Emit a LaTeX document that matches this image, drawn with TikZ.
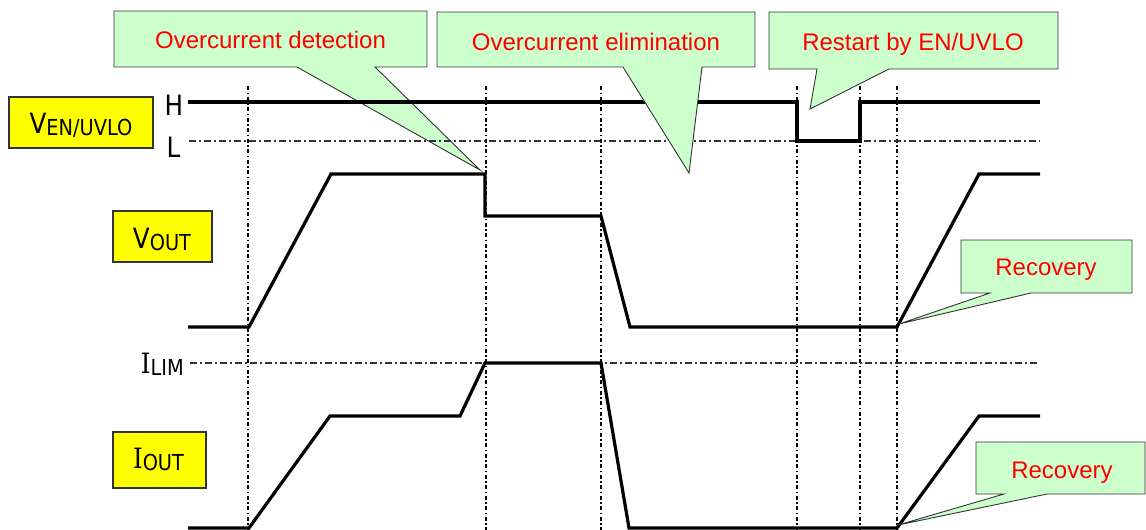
\documentclass[tikz,border=0pt]{standalone}
\usepackage{fontspec}
\setmainfont{Liberation Sans}
\newfontfamily\tfont[FakeStretch=0.88]{DejaVu Sans}
\newfontfamily\ifont[FakeStretch=0.88]{DejaVu Serif}
\definecolor{cgreen}{HTML}{CCFFCC}
\definecolor{cyellow}{HTML}{FFFF00}
\definecolor{cred}{HTML}{FF0000}
\definecolor{cedge}{HTML}{333333}
\newcommand\bigtxt[1]{{\tfont\fontsize{28}{30}\selectfont #1}}
\newcommand\subtxt[1]{\raisebox{-2.5pt}{\tfont\fontsize{22}{24}\selectfont #1}}
\newcommand\seri{{\ifont\fontsize{28}{30}\selectfont I}}
\tikzset{
  wave/.style={line width=3.2pt, line join=miter, black},
  vguide/.style={line width=1.4pt, black, dash pattern=on 4pt off 2.5pt on 1.5pt off 2.5pt},
  hguide/.style={line width=1.2pt, cedge, dash pattern=on 7pt off 3pt on 2pt off 3pt},
  callout/.style={fill=cgreen, draw=cedge, line width=0.9pt, line join=miter},
  calltext/.style={anchor=base, inner sep=0pt, text=cred, font=\fontsize{24}{28}\selectfont},
  ybox/.style={fill=cyellow, draw=cedge, line width=1.2pt, inner sep=0pt},
  sigtext/.style={anchor=base, inner sep=0pt},
}
\begin{document}
\begin{tikzpicture}[x=1pt,y=-1pt]
\useasboundingbox (0,0) rectangle (1146,530);
% callout 1 (below waveforms)
\path[callout] (114,11) -- (427,11) -- (427,67) -- (375,67) -- (480,170) -- (297,67) -- (114,67) -- cycle;
\node[calltext] (t1) at (270.5,48) {Overcurrent detection};
% vertical guides
\foreach \x/\n in {248/a,486/b,601/c,797/d,860/e,897/f}{
  \coordinate (g\n top) at (\x,86);
  \coordinate (g\n bot) at (\x,530);
  \draw[vguide] (g\n top) -- (g\n bot);
}
% horizontal guides
\coordinate (Lstart) at (189,141);
\coordinate (Lend) at (1040,141);
\draw[hguide] (Lstart) -- (Lend);
\coordinate (Istart) at (190,363);
\coordinate (Iend) at (1038,363);
\draw[hguide] (Istart) -- (Iend);
% waveforms
\draw[wave] (188,102) -- (797,102) -- (797,141) -- (860,141) -- (860,102) -- (1040,102);
\draw[wave] (188,327) -- (249,327) -- (331,174) -- (485,174) -- (485,216) -- (601,216) -- (630,327) -- (897,327) -- (979,174) -- (1040,174);
\draw[wave] (188,528) -- (249,528) -- (330,416) -- (460,416) -- (485,363) -- (601,363) -- (629,528) -- (897,528) -- (979,416) -- (1040,416);
% callouts on top
\path[callout] (437,12) -- (755,12) -- (755,67) -- (702,67) -- (689,173) -- (623,67) -- (437,67) -- cycle;
\node[calltext] (t2) at (596,50) {Overcurrent elimination};
\path[callout] (769,12) -- (1058,12) -- (1058,69) -- (889,69) -- (810,109) -- (817,69) -- (769,69) -- cycle;
\node[calltext] (t3) at (913,50) {Restart by EN/UVLO};
\path[callout] (961,240) -- (1132,240) -- (1132,293) -- (1031,293) -- (899,324) -- (990,293) -- (961,293) -- cycle;
\node[calltext] (t4) at (1046,275) {Recovery};
\path[callout] (976,442) -- (1145,442) -- (1145,494) -- (1047,494) -- (898,525) -- (1004,494) -- (976,494) -- cycle;
\node[calltext] (t5) at (1062,478) {Recovery};
% signal labels
\node[ybox, minimum width=144pt, minimum height=51pt] (enbox) at (81,122.5) {};
\node[sigtext] (entext) at (81,133) {\bigtxt{V}\subtxt{EN/UVLO}};
\node[ybox, minimum width=99pt, minimum height=51pt] (voutbox) at (162.5,236.5) {};
\node[sigtext] (vouttext) at (162,248) {\bigtxt{V}\subtxt{OUT}};
\node[ybox, minimum width=93pt, minimum height=56pt] (ioutbox) at (159.5,460) {};
\node[sigtext] (iouttext) at (158.5,468) {\seri\subtxt{OUT}};
\node[anchor=base east, inner sep=0pt] (ilim) at (184,373) {\seri\subtxt{LIM}};
\node[sigtext] (hlab) at (174,115) {\bigtxt{H}};
\node[sigtext] (llab) at (173.5,157) {\bigtxt{L}};
\end{tikzpicture}
\end{document}
